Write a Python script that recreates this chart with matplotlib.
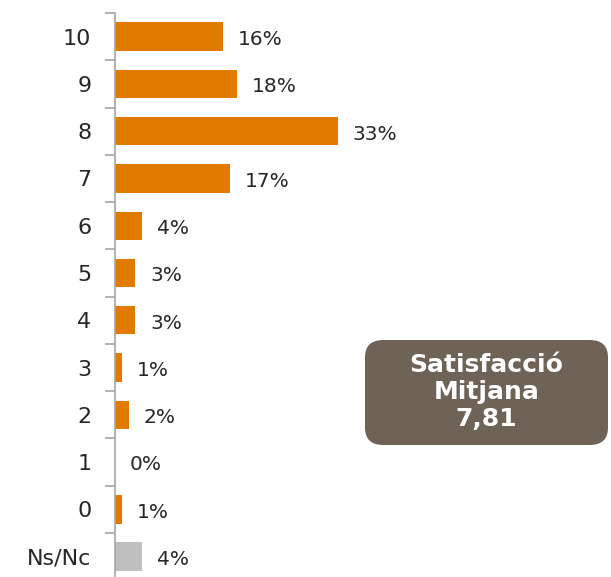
import matplotlib
matplotlib.use("Agg")
import matplotlib.pyplot as plt
from matplotlib.patches import FancyBboxPatch
import numpy as np

categories = ["10", "9", "8", "7", "6", "5", "4", "3", "2", "1", "0", "Ns/Nc"]
values = [16, 18, 33, 17, 4, 3, 3, 1, 2, 0, 1, 4]
labels = ["16%", "18%", "33%", "17%", "4%", "3%", "3%", "1%", "2%", "0%", "1%", "4%"]
colors = ["#E07B00"] * 11 + ["#BFBFBF"]
box_text = "Satisfacció\nMitjana\n7,81"

plt.rcParams['font.family'] = ['DejaVu Sans']

W, H = 611, 577
fig = plt.figure(figsize=(W / 100, H / 100), dpi=100)
ax = fig.add_axes([115 / W, 0, (W - 115) / W, 564 / H])

y = np.arange(len(categories))
ax.barh(y, values, height=0.6, color=colors, edgecolor="none")
ax.set_ylim(11.43, -0.5)
ax.set_xlim(0, 496 / 6.75)

for yi, v, lab in zip(y, values, labels):
    ax.text(v + 2.2, yi + 0.06, lab, va="center", ha="left", fontsize=14.5, color="#262626")

ax.set_yticks(y)
ax.set_yticklabels(categories, fontsize=16, color="#262626")
ax.tick_params(axis="y", which="major", length=0, pad=17)
ax.set_yticks(np.arange(-0.5, 11.5, 1), minor=True)
ax.tick_params(axis="y", which="minor", length=7, color="#A6A6A6", width=1.2)
ax.set_xticks([])
for s in ["top", "right", "bottom"]:
    ax.spines[s].set_visible(False)
ax.spines["left"].set_color("#A6A6A6")
ax.spines["left"].set_linewidth(1.2)

# summary box
bx0, by0, bx1, by1 = 365, 340, 608, 445
box = FancyBboxPatch((bx0 / W, 1 - by1 / H), (bx1 - bx0) / W, (by1 - by0) / H,
                     boxstyle="round,pad=0,rounding_size=0.03",
                     transform=fig.transFigure, facecolor="#6F6256", edgecolor="none")
fig.patches.append(box)
fig.text((bx0 + bx1) / 2 / W, 1 - 392 / H, box_text, ha="center", va="center",
         fontsize=18, fontweight="bold", color="white", linespacing=1.18)

fig.savefig("out.png", dpi=100)
